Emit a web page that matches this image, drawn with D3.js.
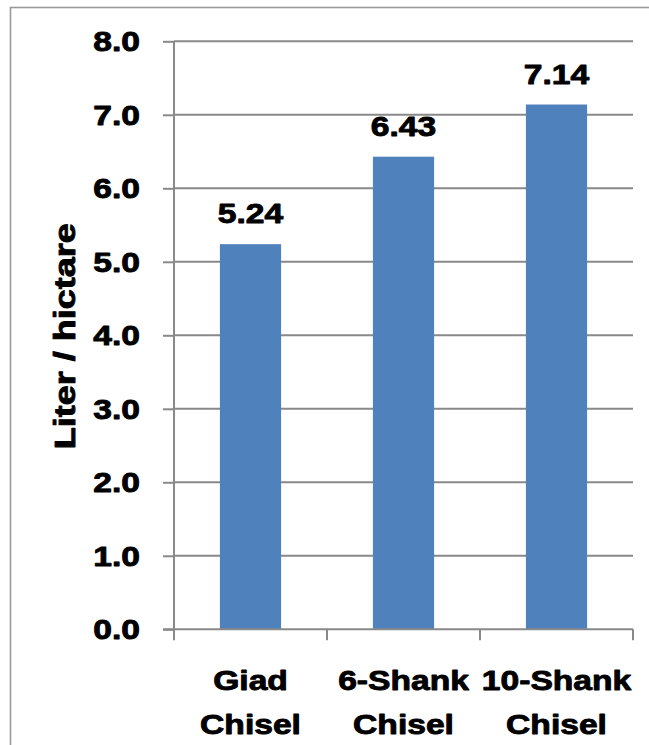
<!DOCTYPE html>
<html>
<head>
<meta charset="utf-8">
<script src="https://cdn.jsdelivr.net/npm/d3@7"></script>
<style>
  html, body { margin: 0; padding: 0; background: #fff; }
  svg { display: block; }
  text { font-family: "Liberation Sans", Arial, sans-serif; font-weight: bold; fill: #000;
         stroke: #000; stroke-width: 0.9; stroke-linejoin: round; }
</style>
</head>
<body>
<svg id="chart" width="649" height="745"></svg>
<script>
// Fuel use per implement
const categories = [["Giad", "Chisel"], ["6-Shank", "Chisel"], ["10-Shank", "Chisel"]];
const values = [5.24, 6.43, 7.14];
const yTicks = [0, 1, 2, 3, 4, 5, 6, 7, 8];
const yTitle = "Liter / hictare";

const W = 649, H = 745;
const plot = { left: 174, right: 633, top: 41.3, bottom: 629.3 };
const gridColor = "#898989";
const barColor = "#4F81BD";
const stretch = 1.2;

const svg = d3.select("#chart");

// outer frame (runs past the right and bottom edges)
svg.append("rect")
  .attr("x", 10.5).attr("y", 7.5)
  .attr("width", W).attr("height", H)
  .attr("fill", "none").attr("stroke", "#999").attr("stroke-width", 1.6);

const keys = categories.map(c => c.join(" "));
const x = d3.scaleBand().domain(keys)
  .range([plot.left, plot.right]).paddingInner(0.6).paddingOuter(0.3);
const y = d3.scaleLinear().domain([0, 8]).range([plot.bottom, plot.top]);

// horizontal gridlines
svg.append("g").selectAll("line").data(yTicks.filter(t => t > 0)).join("line")
  .attr("x1", plot.left).attr("x2", plot.right)
  .attr("y1", d => y(d)).attr("y2", d => y(d))
  .attr("stroke", gridColor).attr("stroke-width", 2);

// bars
svg.append("g").selectAll("rect").data(values).join("rect")
  .attr("x", (d, i) => x(keys[i]))
  .attr("width", x.bandwidth())
  .attr("y", d => y(d))
  .attr("height", d => y(0) - y(d))
  .attr("fill", barColor);

// y axis
const yAxis = svg.append("g").attr("transform", `translate(${plot.left},0)`)
  .call(d3.axisLeft(y).tickValues(yTicks).tickSize(11).tickFormat(() => ""));
yAxis.select(".domain").attr("stroke", gridColor).attr("stroke-width", 2)
  .attr("d", `M0,${plot.top}V${plot.bottom}`);
yAxis.selectAll(".tick line").attr("stroke", gridColor).attr("stroke-width", 2);

svg.append("g").selectAll("text").data(yTicks).join("text")
  .attr("transform", d => `translate(140,${y(d) + 10}) scale(${stretch},1)`)
  .attr("text-anchor", "end")
  .attr("font-size", 28)
  .text(d => d.toFixed(1));

// x axis
const xAxis = svg.append("g").attr("transform", `translate(0,${plot.bottom})`)
  .call(d3.axisBottom(x).tickSize(0).tickFormat(() => ""));
xAxis.select(".domain").attr("stroke", gridColor).attr("stroke-width", 2)
  .attr("d", `M${plot.left - 11},0H${plot.right}`);
xAxis.selectAll(".tick").remove();
const step = x.step();
const bounds = keys.map(k => x(k) - x.paddingInner() * step / 2).concat([plot.right]);
xAxis.selectAll(".sep").data(bounds).join("line")
  .attr("class", "sep")
  .attr("x1", d => d).attr("x2", d => d)
  .attr("y1", 0).attr("y2", 11)
  .attr("stroke", gridColor).attr("stroke-width", 2);

// category labels
const cat = svg.append("g").selectAll("g").data(categories).join("g")
  .attr("transform", (d, i) => `translate(${x(keys[i]) + x.bandwidth() / 2},0)`);
cat.selectAll("text").data(d => d).join("text")
  .attr("transform", (d, j) => `translate(0,${689.6 + j * 44.4}) scale(${stretch},1)`)
  .attr("text-anchor", "middle")
  .attr("font-size", 28)
  .text(d => d);

// value labels
svg.append("g").selectAll("text").data(values).join("text")
  .attr("transform", (d, i) => `translate(${x(keys[i]) + x.bandwidth() / 2},${y(d) - 21}) scale(${stretch},1)`)
  .attr("text-anchor", "middle")
  .attr("font-size", 28)
  .text(d => d.toFixed(2));

// y axis title
svg.append("text")
  .attr("transform", `translate(75,${(plot.top + plot.bottom) / 2 + 1}) rotate(-90) scale(1.2,1)`)
  .attr("text-anchor", "middle")
  .attr("font-size", 30)
  .text(yTitle);
</script>
</body>
</html>
